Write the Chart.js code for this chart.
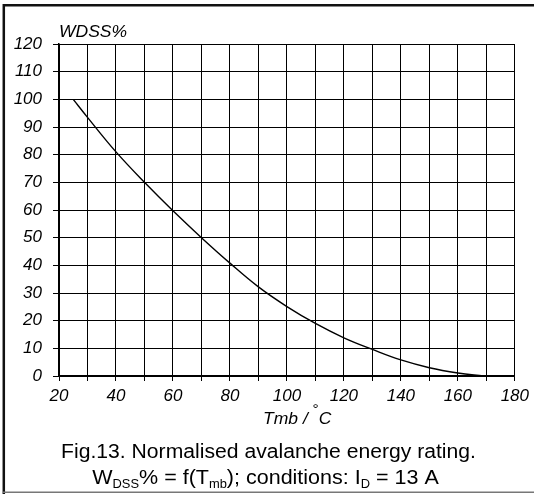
<!DOCTYPE html>
<html>
<head>
<meta charset="utf-8">
<script src="https://cdn.jsdelivr.net/npm/chart.js@4.4.1/dist/chart.umd.min.js"></script>
<style>
  html, body { margin: 0; padding: 0; background: #fff; }
  #wrap { width: 534px; height: 494px; }
</style>
</head>
<body>
<div id="wrap"><canvas id="chart" width="534" height="494"></canvas></div>
<script>
// temperature (Tmb, °C) and normalised avalanche energy (%)
const temps = [25, 30, 40, 50, 60, 70, 80, 90, 100, 110, 120, 130, 140, 150, 160, 169];
const wdss = [100, 93.5, 81, 70, 59.7, 50, 40.8, 32.2, 25.1, 19, 13.8, 9.6, 5.8, 3, 1.1, 0];
const xTicks = [20, 40, 60, 80, 100, 120, 140, 160, 180];

const FONT = '"Liberation Sans", Arial, sans-serif';

// draw a run of [text, isSubscript, dy] pieces starting at x, stretched by sx
function drawRuns(c, parts, x, y, big, small, sx) {
    c.save();
    c.translate(x, y);
    c.scale(sx, 1);
    let px = 0;
    parts.forEach(p => {
        c.font = p[1] ? small : big;
        c.fillText(p[0], px, p[2] || 0);
        px += c.measureText(p[0]).width;
    });
    c.restore();
}

function runsWidth(c, parts, big, small) {
    let w = 0;
    parts.forEach(p => { c.font = p[1] ? small : big; w += c.measureText(p[0]).width; });
    return w;
}

// texts, frame and caption drawn straight on the canvas
const extras = {
    id: 'extras',
    afterDraw(chart) {
        const c = chart.ctx;
        c.save();
        c.fillStyle = '#000';
        c.textBaseline = 'alphabetic';
        c.textAlign = 'left';

        // frame
        c.strokeStyle = '#111';
        c.lineWidth = 2.5;
        c.beginPath();
        c.moveTo(3.8, 494);
        c.lineTo(3.8, 5.2);
        c.lineTo(534, 5.2);
        c.stroke();
        c.strokeStyle = '#777';
        c.lineWidth = 1.5;
        c.beginPath();
        c.moveTo(3, 492.3);
        c.lineTo(534, 492.3);
        c.stroke();

        const it = 'italic 17px ' + FONT;

        // y title
        drawRuns(c, [['WDSS%', false]], 59, 37, it, it, 1.03);

        // x title
        drawRuns(c, [['Tmb / ', false], ['°', true, -10], ['C', false]], 263, 423.5, it, '15px ' + FONT, 1.03);

        // caption
        const big = '20px ' + FONT, small = '12px ' + FONT;
        const line1 = [['Fig.13. Normalised avalanche energy rating.', false]];
        const line2 = [
            ['W', false], ['DSS', true, 4], ['% = f(T', false], ['mb', true, 4],
            ['); conditions: I', false], ['D', true, 4], [' = 13 A', false]
        ];
        let sx = 1.057;
        let w = runsWidth(c, line1, big, small) * sx;
        drawRuns(c, line1, 268.5 - w / 2, 457.5, big, small, sx);
        sx = 1.075;
        w = runsWidth(c, line2, big, small) * sx;
        drawRuns(c, line2, 265.5 - w / 2, 483.5, big, small, sx);
        c.restore();
    }
};

new Chart(document.getElementById('chart').getContext('2d'), {
    type: 'line',
    data: {
        labels: temps,
        datasets: [{
            data: temps.map((t, i) => ({ x: t, y: wdss[i] })),
            borderColor: '#000',
            borderWidth: 1.4,
            pointRadius: 0,
            fill: false,
            tension: 0.4
        }]
    },
    options: {
        responsive: false,
        animation: false,
        layout: { padding: { left: 0, top: 44, right: 18, bottom: 0 } },
        plugins: {
            legend: { display: false },
            tooltip: { enabled: false }
        },
        scales: {
            x: {
                type: 'linear',
                min: 20,
                max: 180,
                afterFit: s => { s.height = 118; },
                afterBuildTicks: s => {
                    const t = [];
                    for (let v = 20; v <= 180; v += 10) t.push({ value: v });
                    s.ticks = t;
                },
                ticks: {
                    autoSkip: false,
                    maxRotation: 0,
                    padding: 5,
                    color: '#000',
                    font: { family: FONT, size: 17, style: 'italic' },
                    callback: v => xTicks.includes(v) ? String(v) : ''
                },
                grid: { color: '#000', lineWidth: 1, tickLength: 5 },
                border: { color: '#000', width: 1.5 }
            },
            y: {
                min: 0,
                max: 120,
                afterFit: s => { s.width = 59; },
                ticks: {
                    stepSize: 10,
                    padding: 11,
                    color: '#000',
                    font: { family: FONT, size: 17, style: 'italic' }
                },
                grid: { color: '#000', lineWidth: 1, tickLength: 6 },
                border: { color: '#000', width: 1.5 }
            }
        }
    },
    plugins: [extras]
});
</script>
</body>
</html>
